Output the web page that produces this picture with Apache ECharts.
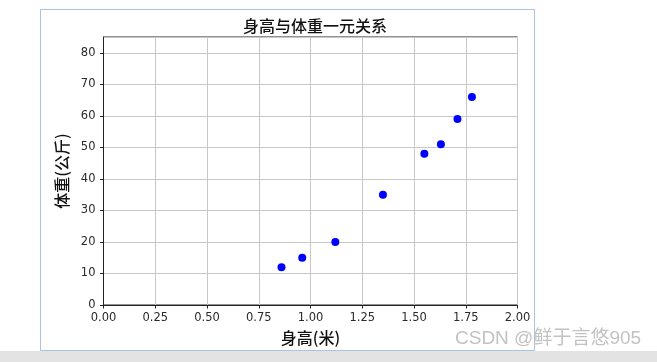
<!DOCTYPE html>
<html>
<head>
<meta charset="utf-8">
<script src="https://cdn.jsdelivr.net/npm/echarts@6/dist/echarts.min.js"></script>
<style>html,body{margin:0;padding:0;background:#fff;}#c{width:657px;height:362px;}</style>
</head>
<body>
<div id="c"></div>
<script>
const heights = [0.86, 0.96, 1.12, 1.35, 1.55, 1.63, 1.71, 1.78];
const weights = [12, 15, 20, 35, 48, 51, 59, 66];
const titleText = '身高与体重一元关系';
const xName = '身高(米)';
const yName = '体重(公斤)';
const watermark = 'CSDN @鲜于言悠905';

const points = heights.map((h, i) => [h, weights[i]]);
const chart = echarts.init(document.getElementById('c'), null, {renderer: 'canvas'});
const tickFont = {fontFamily: 'DejaVu Sans', fontSize: 11.5, color: '#2a2a2a'};
const nameFont = {fontFamily: 'Noto Sans CJK SC', fontSize: 16, fontWeight: 500, color: '#111'};
chart.setOption({
  animation: false,
  backgroundColor: '#ffffff',
  graphic: [
    {type: 'rect', silent: true, z: -10, shape: {x: 0, y: 351, width: 657, height: 11}, style: {fill: '#e3e3e3'}},
    {type: 'rect', silent: true, z: -9, shape: {x: 40.5, y: 9.5, width: 494, height: 341}, style: {fill: '#ffffff', stroke: '#a9c4e2', lineWidth: 1}},
    {type: 'text', silent: true, z: 100, left: 455, top: 329, style: {text: watermark, fill: '#c2c2c2', font: '19px "Liberation Sans", "Noto Sans CJK SC", sans-serif'}}
  ],
  title: {
    text: titleText, left: 310, textAlign: 'center', top: 13,
    textStyle: {fontFamily: 'Noto Sans CJK SC', fontSize: 16, fontWeight: 500, color: '#111'}
  },
  grid: {left: 103.5, right: 139.5, top: 37, bottom: 57, show: true, borderColor: '#222', borderWidth: 1, backgroundColor: 'transparent'},
  xAxis: {
    type: 'value', min: 0, max: 2, interval: 0.25,
    name: xName, nameLocation: 'middle', nameGap: 25,
    nameTextStyle: nameFont,
    axisLine: {show: true, lineStyle: {color: '#222', width: 1}},
    axisTick: {show: true, length: 3.5, lineStyle: {color: '#222'}},
    axisLabel: Object.assign({margin: 7, formatter: v => v.toFixed(2)}, tickFont),
    splitLine: {show: true, lineStyle: {color: '#c8c8c8', width: 1}}
  },
  yAxis: {
    type: 'value', min: 0, max: 85, interval: 10,
    name: yName, nameLocation: 'middle', nameGap: 33,
    nameTextStyle: nameFont,
    axisLine: {show: true, lineStyle: {color: '#222', width: 1}},
    axisTick: {show: true, length: 3.5, lineStyle: {color: '#222'}},
    axisLabel: Object.assign({margin: 8, showMaxLabel: false, formatter: v => (v > 80 ? '' : String(v))}, tickFont),
    splitLine: {show: true, lineStyle: {color: '#c8c8c8', width: 1}}
  },
  series: [{
    type: 'scatter', data: points, symbol: 'circle', symbolSize: 8,
    itemStyle: {color: '#0000ff', opacity: 1}
  }]
});
</script>
</body>
</html>
